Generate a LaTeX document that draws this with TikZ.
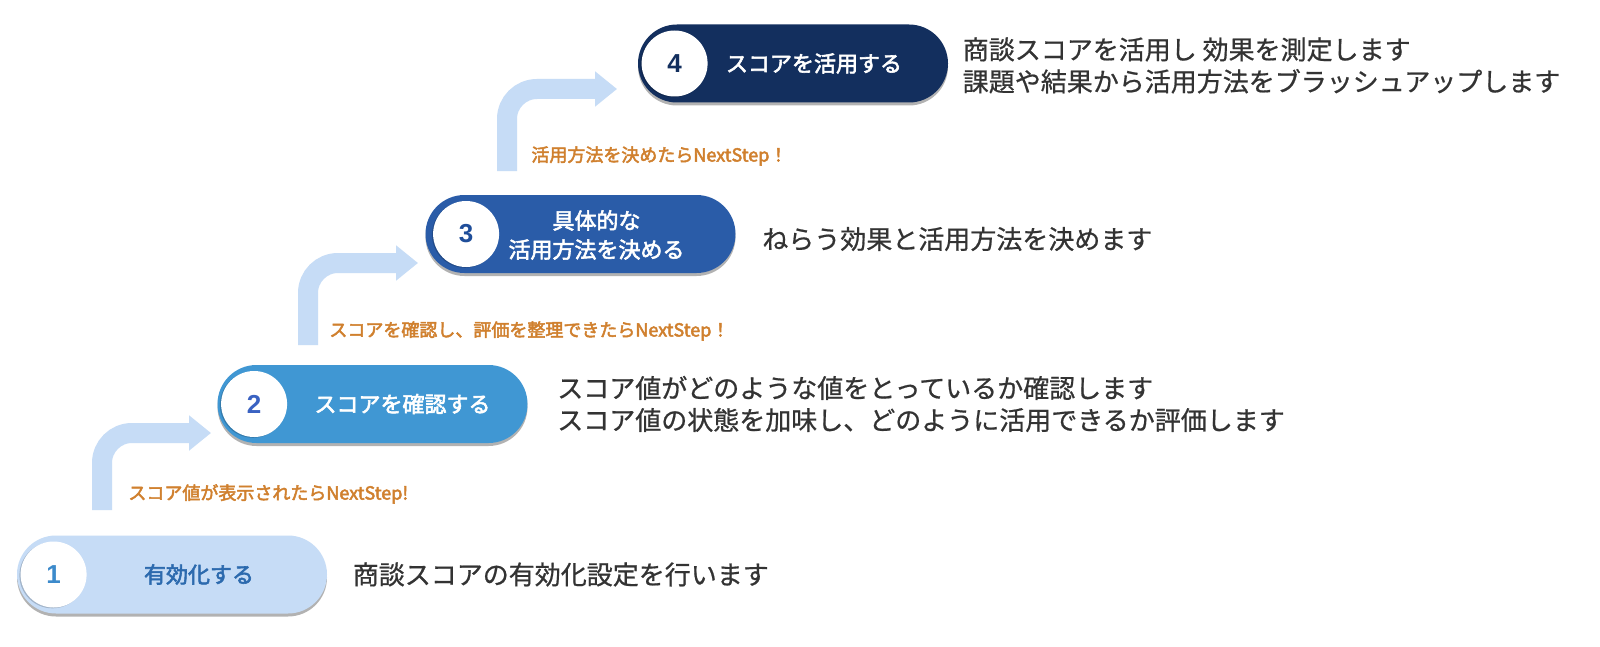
\documentclass[tikz,border=0pt]{standalone}
\usepackage{fontspec}
\setmainfont{Noto Sans CJK JP}
\newfontfamily\numfont{Liberation Sans}
\newfontfamily\descfont[FakeBold=0.7]{Noto Sans CJK JP}
\newfontfamily\midfont[FakeBold=2.6]{Noto Sans CJK JP}
\usetikzlibrary{arrows.meta,shadows,calc}
\definecolor{fillA}{HTML}{C6DCF6}
\definecolor{fillB}{HTML}{4097D3}
\definecolor{fillC}{HTML}{2A5CA8}
\definecolor{fillD}{HTML}{132F5E}
\definecolor{numA}{HTML}{3C8ACB}
\definecolor{txtA}{HTML}{2C6AAE}
\definecolor{numB}{HTML}{3A62C2}
\definecolor{numC}{HTML}{1F4E9A}
\definecolor{numD}{HTML}{132F5E}
\definecolor{arrowblue}{HTML}{C6DCF6}
\definecolor{noteorange}{HTML}{D0802E}
\definecolor{desctext}{HTML}{333333}
\begin{document}
\begin{tikzpicture}[x=0.5pt,y=-0.5pt,
  pill/.style={rounded corners=19.5pt, minimum width=155pt, minimum height=39pt, inner sep=0pt,
    drop shadow={shadow xshift=0pt, shadow yshift=-1.5pt, opacity=0.3, fill=black}},
  numcircle/.style={circle, fill=white, minimum size=33pt, inner sep=0pt,
    font=\numfont\bfseries\fontsize{13}{13}\selectfont,
    drop shadow={shadow xshift=-0.6pt, shadow yshift=-0.4pt, opacity=0.18, fill=black}},
  pilltext/.style={font=\midfont\fontsize{11}{14.5}\selectfont, align=center, inner sep=0pt},
  stepnote/.style={anchor=west, text=noteorange, font=\midfont\fontsize{9}{9}\selectfont, inner sep=0pt},
  desc/.style={anchor=west, text=desctext, font=\descfont\fontsize{13}{16}\selectfont, align=left, inner sep=0pt},
  steparrow/.style={draw=arrowblue, line width=10pt, rounded corners=15pt,
    -{Triangle[length=11pt,width=17pt]}}
]
\fill[white] (0,0) rectangle (1600,647);
\useasboundingbox (0,0) rectangle (1600,647);

% pills
\node[pill, fill=fillA] (p1) at (172,574.5) {};
\node[pill, fill=fillB] (p2) at (372.5,404) {};
\node[pill, fill=fillC] (p3) at (580.5,234) {};
\node[pill, fill=fillD] (p4) at (793,63.5) {};

% number circles
\node[numcircle, text=numA] (c1) at ($(p1.west)+(37,0)$) {1};
\node[numcircle, text=numB] (c2) at ($(p2.west)+(37,0)$) {2};
\node[numcircle, text=numC] (c3) at ($(p3.west)+(41,0)$) {3};
\node[numcircle, text=numD] (c4) at ($(p4.west)+(37,0)$) {4};

% pill texts
\node[pilltext, text=txtA] (t1) at ($(p1.center)+(27,0)$) {有効化する};
\node[pilltext, text=white] (t2) at ($(p2.center)+(30,0)$) {スコアを確認する};
\node[pilltext, text=white] (t3) at ($(p3.center)+(16,1)$) {具体的な\\活用方法を決める};
\node[pilltext, text=white] (t4) at ($(p4.center)+(21,0)$) {スコアを活用する};

% arrows
\coordinate (a1s) at (102,510);
\coordinate (a1e) at (211,433);
\coordinate (a2s) at (308,345);
\coordinate (a2e) at (418,263);
\coordinate (a3s) at (507,171);
\coordinate (a3e) at (617,89);
\draw[steparrow] (a1s) |- (a1e);
\draw[steparrow] (a2s) |- (a2e);
\draw[steparrow] (a3s) |- (a3e);

% notes
\node[stepnote] (n1) at (128,494) {スコア値が表示されたらNextStep!};
\node[stepnote] (n2) at (329,331) {スコアを確認し、評価を整理できたらNextStep！};
\node[stepnote] (n3) at (531,156) {活用方法を決めたらNextStep！};

% descriptions
\node[desc] (d1) at ($(p1.east)+(25,0)$) {商談スコアの有効化設定を行います};
\node[desc] (d2) at ($(p2.east)+(29,0)$) {スコア値がどのような値をとっているか確認します\\スコア値の状態を加味し、どのように活用できるか評価します};
\node[desc] (d3) at ($(p3.east)+(26,5)$) {ねらう効果と活用方法を決めます};
\node[desc] (d4) at ($(p4.east)+(14,2)$) {商談スコアを活用し 効果を測定します\\課題や結果から活用方法をブラッシュアップします};
\end{tikzpicture}
\end{document}
